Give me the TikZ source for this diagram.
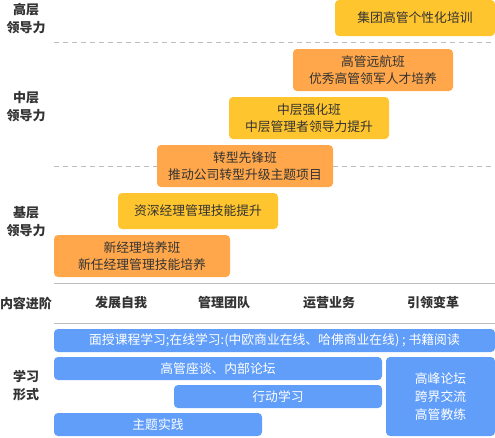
\documentclass[tikz,border=0pt]{standalone}
\usepackage{fontspec}
\setmainfont{Noto Sans CJK SC}
\definecolor{yel}{HTML}{FFC52E}
\definecolor{ora}{HTML}{FFA74A}
\definecolor{blu}{HTML}{619EFA}
\definecolor{txt}{HTML}{333333}
\definecolor{lin}{HTML}{BDBDBD}
\tikzset{
  bx/.style={rounded corners=4pt, inner sep=0pt, text=txt, font=\fontsize{12.8}{17}\selectfont, align=center},
  yb/.style={bx, fill=yel},
  ob/.style={bx, fill=ora},
  bb/.style={rounded corners=4pt, inner sep=0pt, text=white, font=\fontsize{12.8}{18}\selectfont, align=center, fill=blu},
  lab/.style={text=txt, font=\fontsize{13}{18}\selectfont\bfseries, align=center, inner sep=0pt},
  sep/.style={draw=lin, line width=1pt, dash pattern=on 5pt off 4pt},
  sol/.style={draw=lin, line width=1pt},
}
\begin{document}
\begin{tikzpicture}[x=1pt,y=-1pt]
\useasboundingbox (0,0) rectangle (495,437);
% lines
\coordinate (d1a) at (54,42); \coordinate (d1b) at (495,42);
\coordinate (d2a) at (54,166); \coordinate (d2b) at (495,166);
\coordinate (s1a) at (54,283); \coordinate (s1b) at (495,283);
\coordinate (s2a) at (54,323); \coordinate (s2b) at (495,323);
\draw[sep] (d1a) -- (d1b);
\draw[sep] (d2a) -- (d2b);
\draw[sol] (s1a) -- (s1b);
\draw[sol] (s2a) -- (s2b);
% boxes
\node[yb, minimum width=160pt, minimum height=36pt] (b1) at (415,18) {集团高管个性化培训};
\node[ob, minimum width=160pt, minimum height=42pt] (b2) at (373,70) {高管远航班\\优秀高管领军人才培养};
\node[yb, minimum width=160pt, minimum height=42pt] (b3) at (309,118) {中层强化班\\中层管理者领导力提升};
\node[ob, minimum width=176pt, minimum height=42pt] (b4) at (245,166) {转型先锋班\\推动公司转型升级主题项目};
\node[yb, minimum width=160pt, minimum height=36pt] (b5) at (198,211) {资深经理管理技能提升};
\node[ob, minimum width=176pt, minimum height=42pt] (b6) at (142,256) {新经理培养班\\新任经理管理技能培养};
% left labels
\node[lab] (l1) at (26,19) {高层\\领导力};
\node[lab] (l2) at (26,107) {中层\\领导力};
\node[lab] (l3) at (26,222) {基层\\领导力};
\node[lab] (l4) at (26,303) {内容进阶};
\node[lab] (l5) at (26,386) {学习\\形式};
% stage labels
\node[lab] (c1) at (121,303) {发展自我};
\node[lab] (c2) at (224,303) {管理团队};
\node[lab] (c3) at (329,303) {运营业务};
\node[lab] (c4) at (433,303) {引领变革};
% blue boxes
\node[bb, minimum width=441pt, minimum height=23pt] (u1) at (274.5,340.5) {面授课程学习;在线学习:(中欧商业在线、哈佛商业在线) ; 书籍阅读};
\node[bb, minimum width=328pt, minimum height=23pt] (u2) at (218,368.5) {高管座谈、内部论坛};
\node[bb, minimum width=208pt, minimum height=23pt] (u3) at (278,396.5) {行动学习};
\node[bb, minimum width=208pt, minimum height=23pt] (u4) at (158,424.5) {主题实践};
\node[bb, minimum width=109pt, minimum height=79pt] (u5) at (440.5,396.5) {高峰论坛\\跨界交流\\高管教练};
\end{tikzpicture}
\end{document}
